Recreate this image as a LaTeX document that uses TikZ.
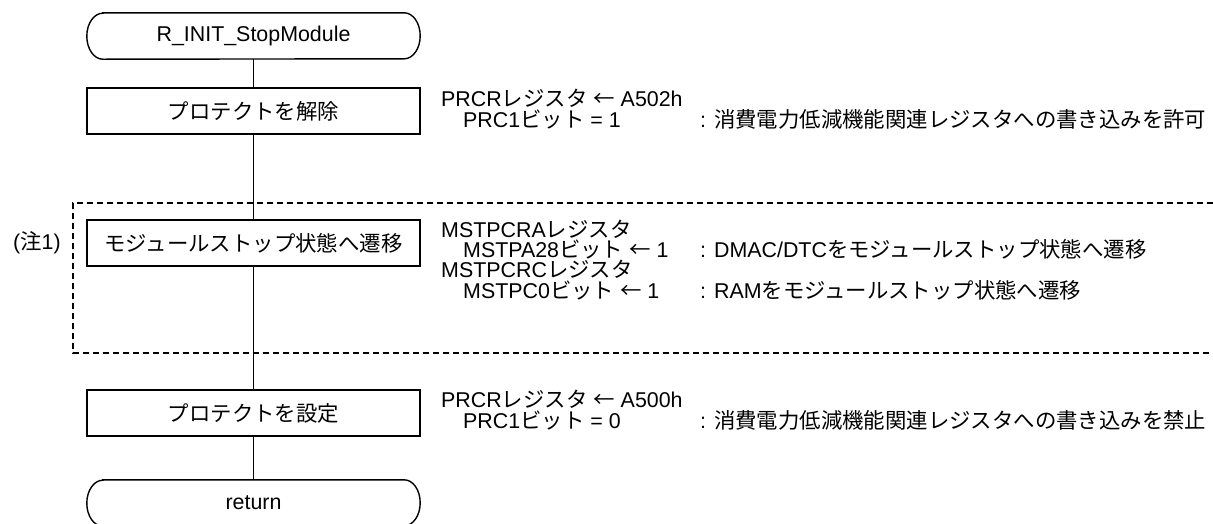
\documentclass[tikz,border=0pt]{standalone}
\usepackage{fontspec}
\setmainfont{Liberation Sans}
\newfontfamily\jpfont{Noto Sans CJK JP}
\newcommand{\jp}[1]{{\jpfont #1}}

\begin{document}
\begin{tikzpicture}[x=1pt, y=-1pt,
    every node/.style={font=\fontsize{21.4}{24}\selectfont},
    flow/.style={line width=1.4pt},
    procbox/.style={draw, line width=1.4pt, minimum width=333pt, minimum height=46pt, inner sep=0pt},
    termbox/.style={minimum width=333pt, minimum height=46pt, inner sep=0pt},
    regtext/.style={anchor=west, inner sep=0pt, text height=13pt, text depth=4pt},
    moduleframe/.style={line width=1.3pt, dash pattern=on 6pt off 4pt}]
    % variables
    \def\boxX{253.5}   % x of the flow line
    \def\regX{441}     % register text
    \def\bitX{463}     % bit text (indented)
    \def\cmtX{700}     % comment text
    \def\endR{16pt}    % horizontal radius of the terminal ends
    \def\endH{23pt}    % half height of the terminal

    \useasboundingbox (0,0) rectangle (1213,523);

    % Module stop frame (open to the right)
    \draw[moduleframe] (1213,203) -- (73,203) -- (73,353) -- (1213,353);

    % Flow chart nodes
    \node[termbox] (start) at (\boxX,36) {R\_INIT\_StopModule};
    \node[procbox] (unprotect) at (\boxX,111) {\jp{プロテクトを解除}};
    \node[procbox] (mstop) at (\boxX,243) {\jp{モジュールストップ状態へ遷移}};
    \node[procbox] (protect) at (\boxX,413) {\jp{プロテクトを設定}};
    \node[termbox] (ret) at (\boxX,503) {return};

    % Terminal outlines
    \foreach \t in {start, ret} {
        \draw[flow] ([xshift=\endR]\t.north west) -- ([xshift=-\endR]\t.north east)
            arc[start angle=90, end angle=-90, x radius=\endR, y radius=\endH]
            -- ([xshift=\endR]\t.south west)
            arc[start angle=270, end angle=90, x radius=\endR, y radius=\endH] -- cycle;
    }

    % Flow line
    \draw[flow] (start) -- (unprotect) -- (mstop) -- (protect) -- (ret);

    % Note mark
    \node (note1) at (37,243) {(\jp{注}1)};

    % Unprotect
    \node[regtext] (prcrA) at (\regX,102) {PRCR\jp{レジスタ} \jp{←} A502h};
    \node[regtext] (prcA) at (\bitX,123) {PRC1\jp{ビット} = 1};
    \node[regtext] (cmtA) at (\cmtX,123) {: \jp{消費電力低減機能関連レジスタへの書き込みを許可}};

    % Module stop
    \node[regtext] (mstpcra) at (\regX,233) {MSTPCRA\jp{レジスタ}};
    \node[regtext] (mstpa) at (\bitX,253) {MSTPA28\jp{ビット} \jp{←} 1};
    \node[regtext] (cmtB) at (\cmtX,253) {: DMAC/DTC\jp{をモジュールストップ状態へ遷移}};
    \node[regtext] (mstpcrc) at (\regX,273) {MSTPCRC\jp{レジスタ}};
    \node[regtext] (mstpc) at (\bitX,294) {MSTPC0\jp{ビット} \jp{←} 1};
    \node[regtext] (cmtC) at (\cmtX,294) {: RAM\jp{をモジュールストップ状態へ遷移}};

    % Protect
    \node[regtext] (prcrB) at (\regX,403) {PRCR\jp{レジスタ} \jp{←} A500h};
    \node[regtext] (prcB) at (\bitX,424) {PRC1\jp{ビット} = 0};
    \node[regtext] (cmtD) at (\cmtX,424) {: \jp{消費電力低減機能関連レジスタへの書き込みを禁止}};
\end{tikzpicture}
\end{document}
